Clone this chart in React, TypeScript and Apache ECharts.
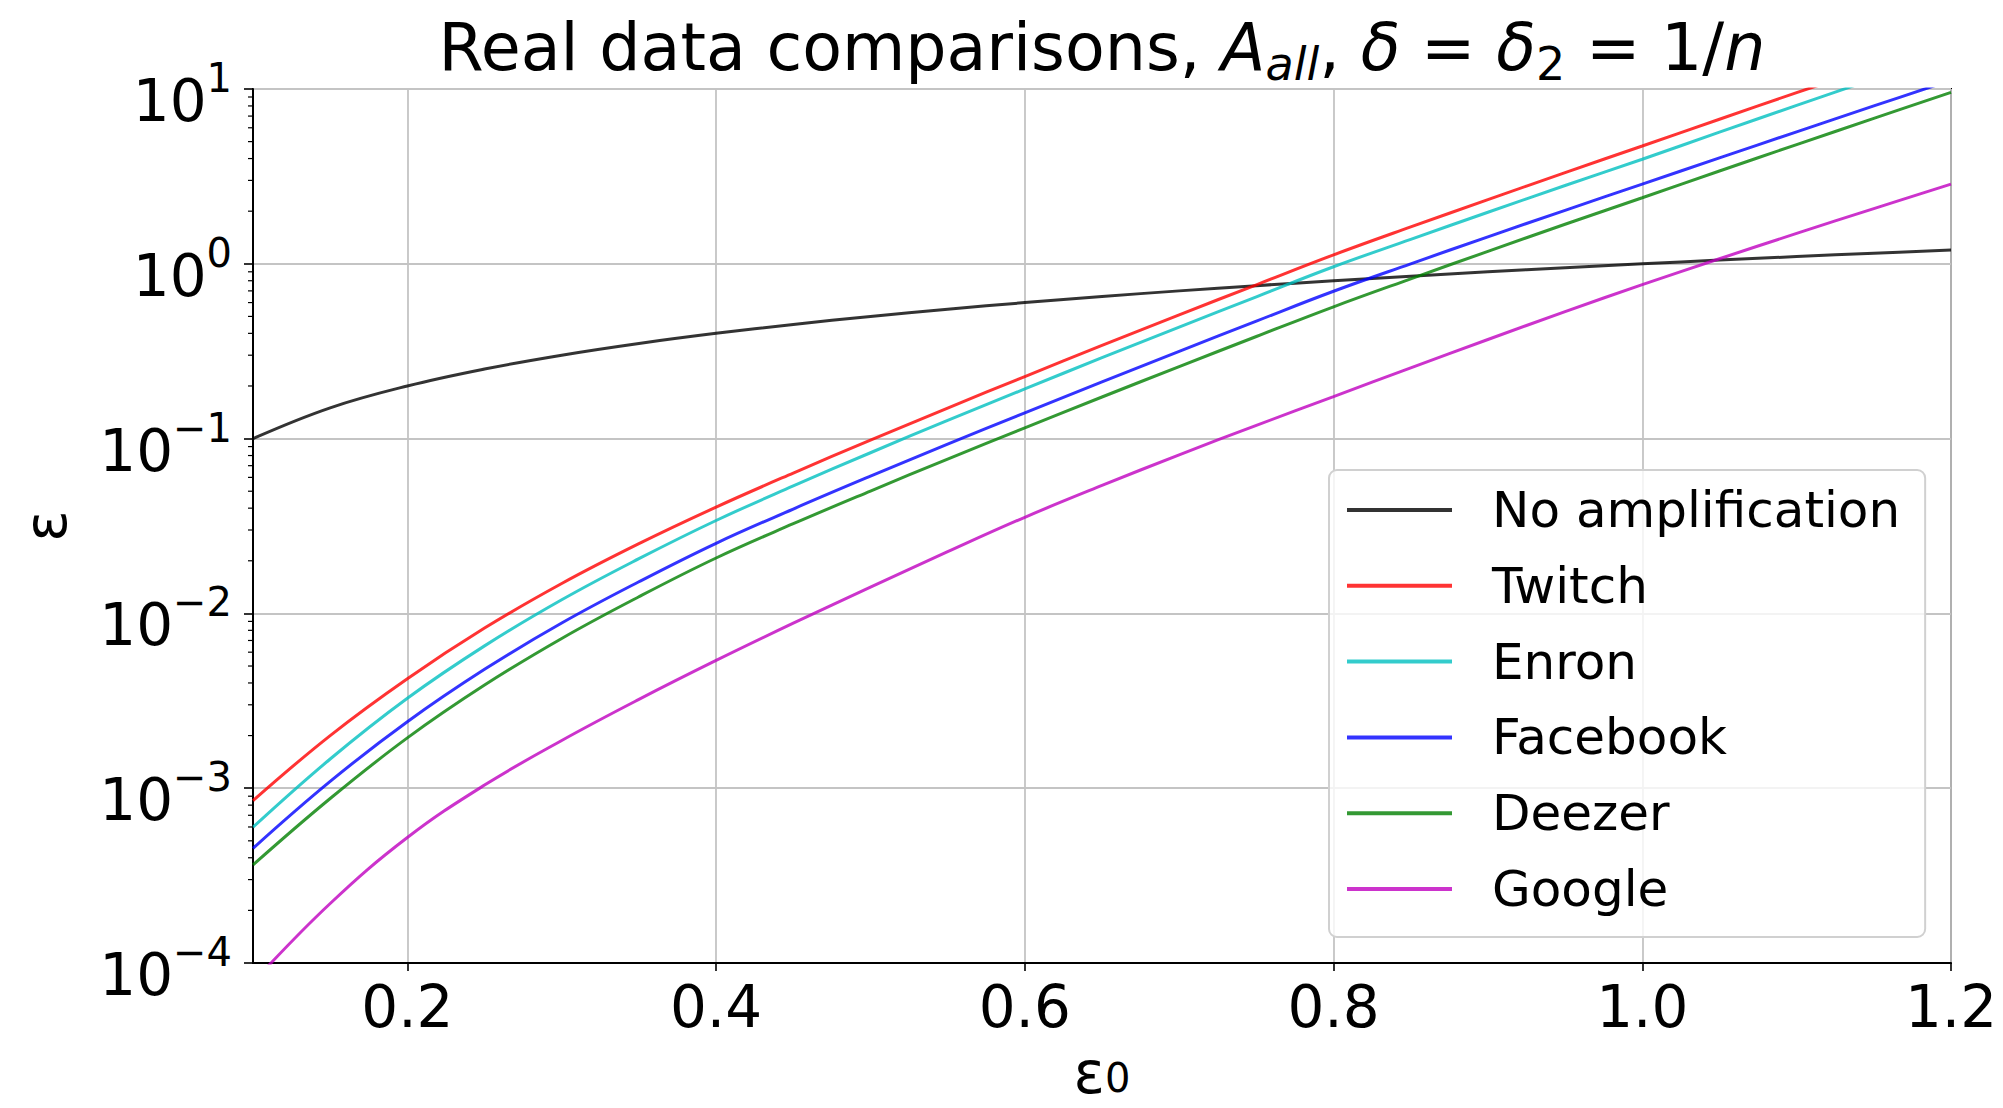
import React, { useEffect, useRef } from 'react';
import * as echarts from 'echarts';

const FONT = 'DejaVu Sans';

// x values (epsilon_0)
const eps0 = [
  0.1, 0.15, 0.2, 0.25, 0.3, 0.35, 0.4, 0.45, 0.5, 0.55, 0.6, 0.65,
  0.7, 0.75, 0.8, 0.85, 0.9, 0.95, 1.0, 1.05, 1.1, 1.15, 1.2,
];

// epsilon values
const noAmplification = [
  0.1, 0.15, 0.2, 0.25, 0.3, 0.35, 0.4, 0.45, 0.5, 0.55, 0.6, 0.65,
  0.7, 0.75, 0.8, 0.85, 0.9, 0.95, 1.0, 1.05, 1.1, 1.15, 1.2,
];
const twitch = [
  8.49e-4, 2.0e-3, 4.23e-3, 8.24e-3, 0.01483, 0.02506, 0.04055, 0.06353, 0.09795, 0.1496, 0.2265, 0.3412,
  0.5105, 0.7586, 1.125, 1.626, 2.328, 3.327, 4.72, 6.714, 9.53, 13.37, 18.6,
];
const enron = [
  5.98e-4, 1.469e-3, 3.27e-3, 6.52e-3, 0.01197, 0.02056, 0.034, 0.05358, 0.08299, 0.1271, 0.1923, 0.2904,
  0.4345, 0.6471, 0.9616, 1.38, 1.972, 2.805, 3.963, 5.662, 8.054, 11.43, 16.14,
];
const facebook = [
  4.53e-4, 1.094e-3, 2.4e-3, 4.786e-3, 8.81e-3, 0.01517, 0.02518, 0.03954, 0.06095, 0.0929, 0.1403, 0.2109,
  0.3155, 0.4699, 0.6966, 1.0, 1.426, 2.023, 2.858, 4.036, 5.689, 8.0, 11.22,
];
const deezer = [
  3.64e-4, 8.73e-4, 1.94e-3, 3.89e-3, 7.19e-3, 0.01245, 0.02075, 0.03258, 0.05012, 0.07638, 0.1153, 0.173,
  0.2582, 0.3837, 0.5675, 0.8204, 1.178, 1.683, 2.388, 3.396, 4.808, 6.792, 9.572,
];
const google = [
  7.76e-5, 2.19e-4, 5.22e-4, 1.042e-3, 1.875e-3, 3.221e-3, 5.38e-3, 8.79e-3, 0.01413, 0.02254, 0.03548, 0.05395,
  0.08072, 0.1191, 0.1738, 0.2541, 0.369, 0.5321, 0.7603, 1.069, 1.493, 2.07, 2.858,
];

const seriesNames = ['No amplification', 'Twitch', 'Enron', 'Facebook', 'Deezer', 'Google'];
const seriesValues = [noAmplification, twitch, enron, facebook, deezer, google];
const seriesColors = [
  'rgba(0,0,0,0.8)',
  'rgba(255,0,0,0.8)',
  'rgba(0,191,191,0.8)',
  'rgba(0,0,255,0.8)',
  'rgba(0,128,0,0.8)',
  'rgba(191,0,191,0.8)',
];

const xTicks = [0.2, 0.4, 0.6, 0.8, 1.0, 1.2];
const yMin = 1e-4;
const yMax = 10;
const minorDecades = [1e-4, 1e-3, 1e-2, 1e-1, 1];
const minorMultipliers = [2, 3, 4, 5, 6, 7, 8, 9];

const titleText =
  '{t|Real data comparisons, }{it|A}{isub|all}{t|, }{it|δ}{t| = }{it|δ}{sub|2}{t| = 1/}{it|n}';

export default function App() {
  const ref = useRef<HTMLDivElement>(null);

  useEffect(() => {
    if (!ref.current) return;
    const chart = echarts.init(ref.current, undefined, { renderer: 'svg' });

    const minorTicks: number[][] = [];
    minorDecades.forEach((d) => minorMultipliers.forEach((m) => minorTicks.push([0.1, d * m])));

    const lineSeries = seriesNames.map((name, si) => ({
      name,
      type: 'line',
      data: eps0.map((x, i) => [x, seriesValues[si][i]]),
      symbol: 'none',
      showSymbol: false,
      smooth: 0.4,
      clip: true,
      lineStyle: { color: seriesColors[si], width: 3 },
      itemStyle: { color: seriesColors[si] },
      z: 3 + si,
      silent: true,
    }));

    const option: any = {
      animation: false,
      backgroundColor: '#ffffff',
      textStyle: { fontFamily: FONT },
      graphic: [
        {
          type: 'text',
          x: 1102,
          y: 47,
          silent: true,
          style: {
            text: titleText,
            align: 'center',
            verticalAlign: 'middle',
            fill: '#000',
            rich: {
              t: { fontSize: 65, fontFamily: FONT, lineHeight: 80, fill: '#000' },
              it: { fontSize: 65, fontFamily: FONT, fontStyle: 'italic', lineHeight: 80, fill: '#000' },
              isub: { fontSize: 46, fontFamily: FONT, fontStyle: 'italic', lineHeight: 50, verticalAlign: 'bottom', fill: '#000' },
              sub: { fontSize: 46, fontFamily: FONT, lineHeight: 50, verticalAlign: 'bottom', fill: '#000' },
            },
          },
        },
      ],
      grid: {
        left: 253,
        top: 89,
        width: 1698,
        height: 874,
        show: true,
        borderColor: '#000',
        borderWidth: 2,
        backgroundColor: 'transparent',
        containLabel: false,
        outerBoundsMode: 'none',
      },
      legend: {
        data: seriesNames,
        orient: 'vertical',
        left: 1329,
        top: 470,
        icon: 'rect',
        itemWidth: 105,
        itemHeight: 4,
        itemGap: 25.8,
        padding: [15, 25, 23, 18],
        backgroundColor: 'rgba(255,255,255,0.8)',
        borderColor: '#d0d0d0',
        borderWidth: 2,
        borderRadius: 8,
        selectedMode: false,
        textStyle: {
          fontSize: 50,
          fontFamily: FONT,
          color: '#000',
          lineHeight: 50,
          padding: [0, 0, 0, 35],
        },
        z: 20,
      },
      xAxis: {
        type: 'value',
        min: 0.1,
        max: 1.2,
        axisLine: { show: true, onZero: false, lineStyle: { color: '#000', width: 2 } },
        axisTick: {
          show: true,
          inside: false,
          length: 8,
          customValues: xTicks,
          lineStyle: { color: '#000', width: 1.6 },
        },
        axisLabel: {
          customValues: xTicks,
          showMinLabel: true,
          showMaxLabel: true,
          formatter: (v: number) => v.toFixed(1),
          fontSize: 58,
          fontFamily: FONT,
          color: '#000',
          margin: 14,
          lineHeight: 60,
        },
        splitLine: {
          show: true,
          customValues: xTicks,
          lineStyle: { color: '#c4c4c4', width: 1.8 },
        },
        name: '{e|ε}{s|0}',
        nameLocation: 'middle',
        nameGap: 85,
        nameTextStyle: {
          rich: {
            e: { fontSize: 58, fontFamily: FONT, color: '#000', lineHeight: 50 },
            s: { fontSize: 40, fontFamily: FONT, color: '#000', lineHeight: 24, verticalAlign: 'bottom' },
          },
        },
      },
      yAxis: {
        type: 'log',
        logBase: 10,
        min: yMin,
        max: yMax,
        axisLine: { show: true, lineStyle: { color: '#000', width: 2 } },
        axisTick: { show: true, inside: false, length: 9, lineStyle: { color: '#000', width: 1.6 } },
        axisLabel: {
          formatter: (v: number) => {
            const e = Math.round(Math.log10(v));
            const s = e < 0 ? '−' + String(-e) : String(e);
            return '{b|10}{s|' + s + '}';
          },
          margin: 21,
          padding: [10, 0, 0, 0],
          rich: {
            b: { fontSize: 58, fontFamily: FONT, color: '#000', lineHeight: 72, verticalAlign: 'bottom' },
            s: { fontSize: 40, fontFamily: FONT, color: '#000', lineHeight: 44, verticalAlign: 'top' },
          },
        },
        splitLine: { show: true, lineStyle: { color: '#c4c4c4', width: 1.8 } },
        name: 'ε',
        nameLocation: 'middle',
        nameRotate: 90,
        nameGap: 177,
        nameTextStyle: { fontSize: 58, fontFamily: FONT, color: '#000', lineHeight: 60 },
      },
      series: [
        ...lineSeries,
        {
          name: 'minorTicks',
          type: 'custom',
          silent: true,
          clip: false,
          z: 10,
          data: minorTicks,
          renderItem: (params: any, api: any) => {
            const p = api.coord([api.value(0), api.value(1)]);
            return {
              type: 'line',
              shape: { x1: p[0] - 5, y1: p[1], x2: p[0], y2: p[1] },
              style: { stroke: '#000', lineWidth: 1.2 },
            };
          },
        },
      ],
    };

    chart.setOption(option);
    return () => chart.dispose();
  }, []);

  return (
    <div
      ref={ref}
      style={{ position: 'absolute', left: 0, top: 0, width: 2003, height: 1108 }}
    />
  );
}
